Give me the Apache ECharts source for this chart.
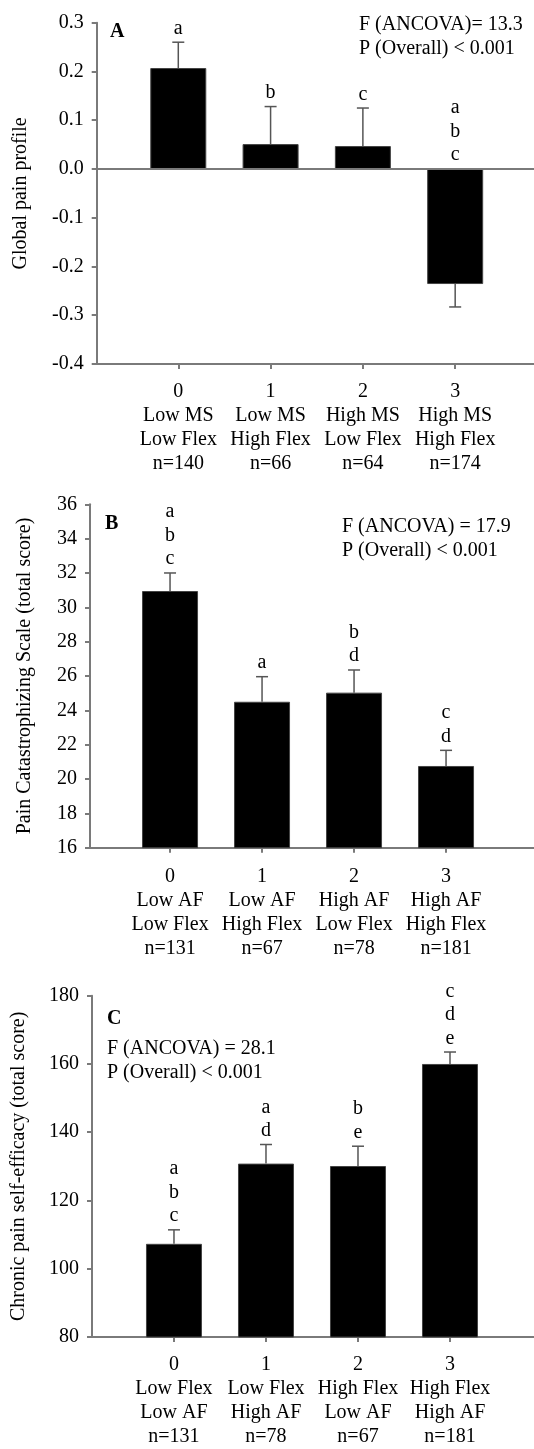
<!DOCTYPE html>
<html>
<head>
<meta charset="utf-8">
<script src="https://cdn.jsdelivr.net/npm/echarts@6/dist/echarts.min.js"></script>
<style>
  html, body { margin: 0; padding: 0; background: #fff; }
  #chart { width: 534px; height: 1449px; }
</style>
</head>
<body>
<div id="chart"></div>
<script>
// group codes shared by the three panels
const groups = ['0', '1', '2', '3']

// panel A: global pain profile
const aLine1 = ['Low MS', 'Low MS', 'High MS', 'High MS']
const aLine2 = ['Low Flex', 'High Flex', 'Low Flex', 'High Flex']
const aN = [140, 66, 64, 174]
const aMean = [0.207, 0.051, 0.047, -0.236]
const aErr = [0.260, 0.128, 0.125, -0.283]
const aLetters = ['a', 'b', 'c', 'a\nb\nc']

// panel B: pain catastrophizing
const bLine1 = ['Low AF', 'Low AF', 'High AF', 'High AF']
const bLine2 = ['Low Flex', 'High Flex', 'Low Flex', 'High Flex']
const bN = [131, 67, 78, 181]
const bMean = [30.95, 24.5, 25.03, 20.76]
const bErr = [32.0, 25.96, 26.35, 21.67]
const bLetters = ['a\nb\nc', 'a', 'b\nd', 'c\nd']

// panel C: chronic pain self-efficacy
const cLine1 = ['Low Flex', 'Low Flex', 'High Flex', 'High Flex']
const cLine2 = ['Low AF', 'High AF', 'Low AF', 'High AF']
const cN = [131, 78, 67, 181]
const cMean = [107.3, 130.8, 130.1, 160.0]
const cErr = [111.4, 136.4, 135.9, 163.5]
const cLetters = ['a\nb\nc', 'a\nd', 'b\ne', 'c\nd\ne']

const FONT = '"Liberation Serif", "Times New Roman", serif'
const AXIS_GRAY = '#7a7a7a'
const ERR_GRAY = '#555'

const chart = echarts.init(document.getElementById('chart'), null, { renderer: 'canvas' })

// one panel = grid + x axis + y axis + bars + error bars/letters
function makeX(idx, min, max, line1, line2, n, margin) {
  return {
    gridIndex: idx,
    type: 'value',
    min: min,
    max: max,
    splitLine: { show: false },
    axisLine: { show: true, onZero: false, lineStyle: { color: AXIS_GRAY, width: 2 } },
    axisTick: { show: true, customValues: [0, 1, 2, 3], length: 5, lineStyle: { color: AXIS_GRAY, width: 2 } },
    axisLabel: {
      customValues: [0, 1, 2, 3],
      formatter: (v) => `${groups[v]}\n${line1[v]}\n${line2[v]}\nn=${n[v]}`,
      fontFamily: FONT,
      fontSize: 20,
      lineHeight: 24,
      color: '#000',
      margin: margin,
    },
  }
}

function makeY(idx, min, max, interval, name, gap, digits) {
  return {
    gridIndex: idx,
    type: 'value',
    min: min,
    max: max,
    interval: interval,
    name: name,
    nameLocation: 'middle',
    nameRotate: 90,
    nameGap: gap,
    nameTextStyle: { fontFamily: FONT, fontSize: 20, color: '#000' },
    splitLine: { show: false },
    axisLine: { show: true, onZero: false, lineStyle: { color: AXIS_GRAY, width: 2 } },
    axisTick: { show: true, length: 5, lineStyle: { color: AXIS_GRAY, width: 2 } },
    axisLabel: {
      fontFamily: FONT,
      fontSize: 20,
      color: '#000',
      margin: 13,
      formatter: (v) => v.toFixed(digits),
    },
  }
}

function barSeries(idx, mean, zeroLine) {
  const s = {
    type: 'bar',
    xAxisIndex: idx,
    yAxisIndex: idx,
    barWidth: 56,
    data: mean.map((v, i) => [i, v]),
    itemStyle: { color: '#000', borderColor: '#444', borderWidth: 1 },
    silent: true,
    z: 2,
  }
  if (zeroLine) {
    s.markLine = {
      silent: true,
      symbol: 'none',
      label: { show: false },
      lineStyle: { color: AXIS_GRAY, width: 2, type: 'solid' },
      data: [{ yAxis: 0 }],
    }
  }
  return s
}

function errSeries(idx, mean, err, letters) {
  return {
    type: 'custom',
    xAxisIndex: idx,
    yAxisIndex: idx,
    silent: true,
    z: 3,
    data: mean.map((v, i) => [i, v, err[i]]),
    renderItem: (params, api) => {
      const x = api.value(0)
      const m = api.value(1)
      const e = api.value(2)
      const p0 = api.coord([x, m])
      const p1 = api.coord([x, e])
      // letters sit above the highest point of bar, whisker and zero line
      const base = api.coord([x, Math.max(m, e, 0)])
      return {
        type: 'group',
        children: [
          {
            type: 'line',
            shape: { x1: p0[0], y1: p0[1], x2: p1[0], y2: p1[1] },
            style: { stroke: ERR_GRAY, lineWidth: 1.5 },
          },
          {
            type: 'line',
            shape: { x1: p1[0] - 6, y1: p1[1], x2: p1[0] + 6, y2: p1[1] },
            style: { stroke: ERR_GRAY, lineWidth: 1.5 },
          },
          {
            type: 'text',
            style: {
              x: base[0],
              y: base[1] - 2,
              text: letters[params.dataIndex],
              fontFamily: FONT,
              fontSize: 20,
              lineHeight: 23.5,
              align: 'center',
              verticalAlign: 'bottom',
              fill: '#000',
            },
          },
        ],
      }
    },
  }
}

function label(x, y, text, bold) {
  return {
    type: 'text',
    x: x,
    y: y,
    silent: true,
    style: {
      text: text,
      font: (bold ? 'bold ' : '') + '20px ' + FONT,
      fill: '#000',
      verticalAlign: 'middle',
    },
  }
}

const option = {
  backgroundColor: '#fff',
  animation: false,
  grid: [
    { left: 96.7, right: 0, top: 22.7, height: 341.3 },
    { left: 90, right: 0, top: 504.3, height: 343.4 },
    { left: 92, right: 0, top: 995.7, height: 344.3 },
  ],
  xAxis: [
    makeX(0, -0.884, 3.854, aLine1, aLine2, aN, 16),
    makeX(1, -0.870, 3.956, bLine1, bLine2, bN, 17),
    makeX(2, -0.891, 3.913, cLine1, cLine2, cN, 16),
  ],
  yAxis: [
    makeY(0, -0.4, 0.3, 0.1, 'Global pain profile', 66, 1),
    makeY(1, 16, 36, 2, 'Pain Catastrophizing Scale (total score)', 55, 0),
    makeY(2, 80, 180, 20, 'Chronic pain self-efficacy (total score)', 63, 0),
  ],
  series: [
    barSeries(0, aMean, true),
    errSeries(0, aMean, aErr, aLetters),
    barSeries(1, bMean, false),
    errSeries(1, bMean, bErr, bLetters),
    barSeries(2, cMean, false),
    errSeries(2, cMean, cErr, cLetters),
  ],
  graphic: [
    label(110, 32, 'A', true),
    label(359, 25, 'F (ANCOVA)= 13.3', false),
    label(359, 49, 'P (Overall) < 0.001', false),
    label(105, 524, 'B', true),
    label(342, 527, 'F (ANCOVA) = 17.9', false),
    label(342, 551, 'P (Overall) < 0.001', false),
    label(107, 1019, 'C', true),
    label(107, 1049, 'F (ANCOVA) = 28.1', false),
    label(107, 1073, 'P (Overall) < 0.001', false),
  ],
}

chart.setOption(option)

window.addEventListener('resize', () => {
  chart.resize()
})
</script>
</body>
</html>
